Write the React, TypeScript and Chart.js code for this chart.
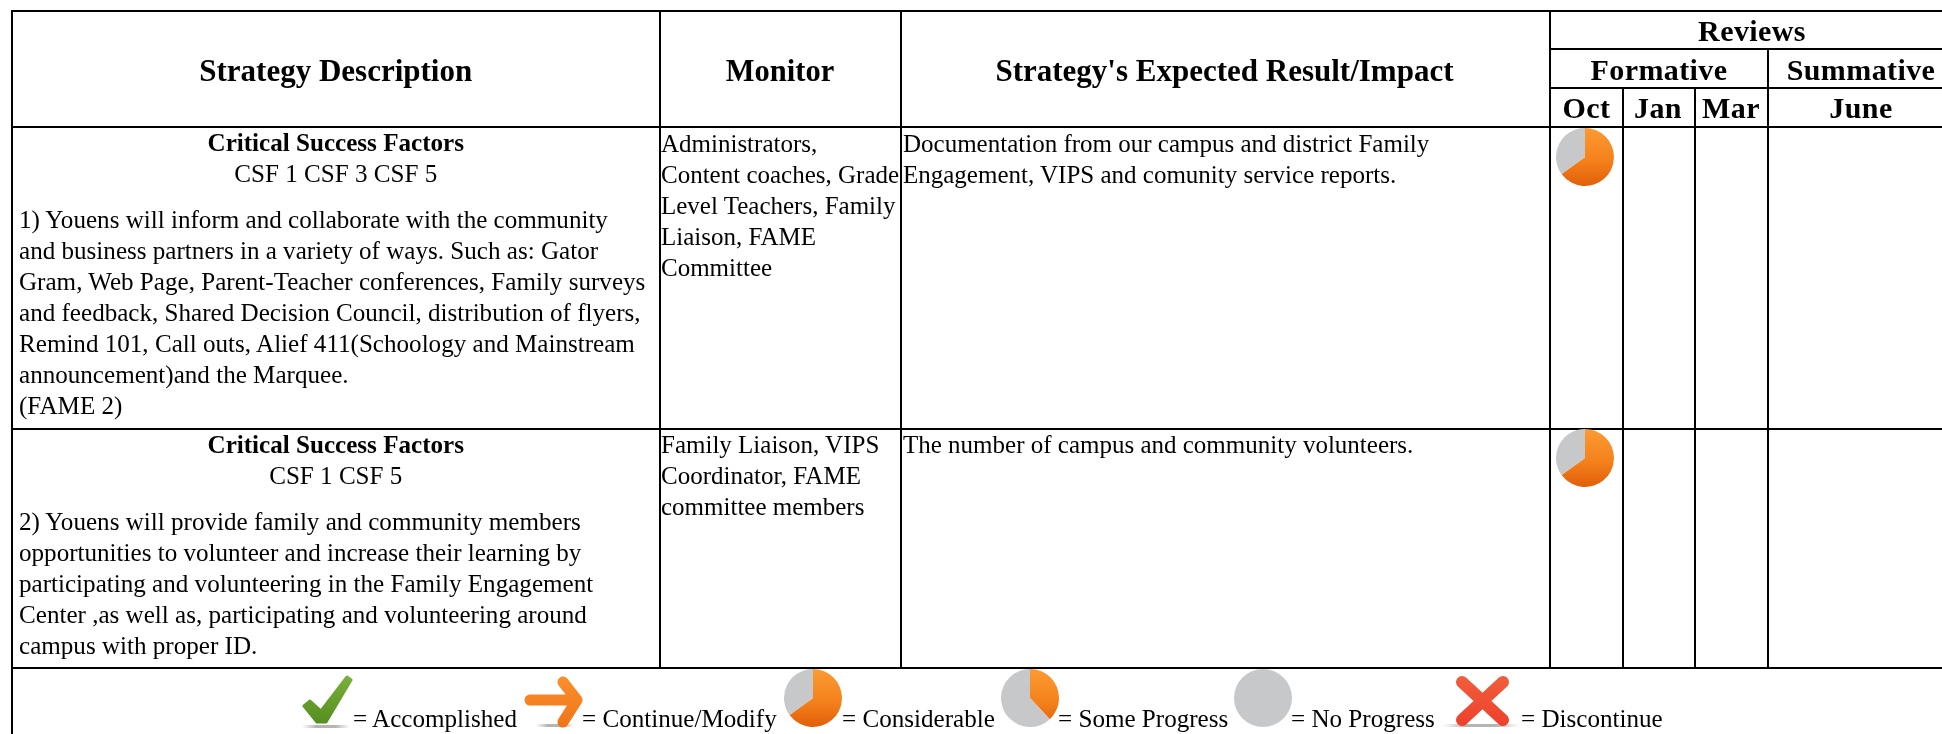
import React, { useEffect, useRef } from "react";
import { Chart, registerables } from "chart.js";

Chart.register(...registerables);

const SERIF = '"Liberation Serif", "Times New Roman", serif';

// ---- Table content ----
const mainHeaders = ["Strategy Description", "Monitor", "Strategy's Expected Result/Impact"];
const reviewsTitle = "Reviews";
const reviewGroups = ["Formative", "Summative"];
const reviewMonths = ["Oct", "Jan", "Mar", "June"];
const csfTitle = "Critical Success Factors";
const row1Csf = "CSF 1 CSF 3 CSF 5";
const row1Description = [
  "1) Youens will inform and collaborate with the community",
  "and business partners in a variety of ways. Such as: Gator",
  "Gram, Web Page, Parent-Teacher conferences, Family surveys",
  "and feedback, Shared Decision Council, distribution of flyers,",
  "Remind 101, Call outs, Alief 411(Schoology and Mainstream",
  "announcement)and the Marquee.",
  "(FAME 2)",
];
const row1Monitor = ["Administrators,", "Content coaches, Grade", "Level Teachers, Family", "Liaison, FAME", "Committee"];
const row1Result = ["Documentation from our campus and district Family", "Engagement, VIPS and comunity service reports."];
const row2Csf = "CSF 1 CSF 5";
const row2Description = [
  "2) Youens will provide family and community members",
  "opportunities to volunteer and increase their learning by",
  "participating and volunteering in the Family Engagement",
  "Center ,as well as, participating and volunteering around",
  "campus with proper ID.",
];
const row2Monitor = ["Family Liaison, VIPS", "Coordinator, FAME", "committee members"];
const row2Result = ["The number of campus and community volunteers."];
const legendLabels = ["= Accomplished", "= Continue/Modify", "= Considerable", "= Some Progress", "= No Progress", "= Discontinue"];

// ---- Progress pie values: [orange share, grey share] ----
const considerableValues = [65, 35];
const someProgressValues = [38, 62];
const noProgressValues = [0, 100];

// ---- Layout ----
const COL = [12, 659.5, 901, 1550, 1623, 1695, 1768];
const ROW = [11, 49, 88, 127, 429, 668];

function Pie({ values, cx, cy }: { values: number[]; cx: number; cy: number }) {
  const ref = useRef<HTMLCanvasElement>(null);
  useEffect(() => {
    if (!ref.current) return;
    const chart = new Chart(ref.current, {
      type: "pie",
      data: {
        labels: ["Progress", "Remaining"],
        datasets: [
          {
            data: values,
            borderWidth: 0,
            backgroundColor: (c: any) => {
              if (c.dataIndex === 1) return "#c7c8ca";
              const g = c.chart.ctx.createLinearGradient(0, 4, 0, 60);
              g.addColorStop(0, "#fb9a33");
              g.addColorStop(0.55, "#f5821c");
              g.addColorStop(1, "#e2600a");
              return g;
            },
          },
        ],
      },
      options: {
        responsive: false,
        animation: false,
        radius: 29,
        layout: { padding: 0 },
        plugins: { legend: { display: false }, tooltip: { enabled: false } },
      } as any,
    });
    return () => chart.destroy();
  }, [values]);
  return (
    <canvas
      ref={ref}
      width={64}
      height={64}
      style={{ position: "absolute", left: cx - 32, top: cy - 32, width: 64, height: 64, filter: "blur(0.7px)" }}
    />
  );
}

function T({ x, y, size = 25, bold = false, center = false, spacing = 0, children }: any) {
  return (
    <div
      style={{
        position: "absolute",
        left: x,
        top: y - 20,
        height: 40,
        lineHeight: "40px",
        fontSize: size,
        fontWeight: bold ? 700 : 400,
        fontFamily: SERIF,
        letterSpacing: spacing,
        color: "#000",
        whiteSpace: "nowrap",
        filter: "blur(0.3px)",
        transform: center ? "translateX(-50%)" : undefined,
      }}
    >
      {children}
    </div>
  );
}

function L({ x1, y1, x2, y2, w = 2 }: any) {
  const horiz = y1 === y2;
  return (
    <div
      style={{
        position: "absolute",
        background: "#000",
        left: horiz ? x1 : x1 - w / 2,
        top: horiz ? y1 - w / 2 : y1,
        width: horiz ? x2 - x1 : w,
        height: horiz ? w : y2 - y1,
      }}
    />
  );
}

function Icon({ x, y, w, h, id, stops, d, sw, filled, shadow }: any) {
  return (
    <svg
      style={{ position: "absolute", left: x, top: y, filter: "blur(0.7px)" }}
      width={w}
      height={h}
      viewBox={`${x} ${y} ${w} ${h}`}
    >
      <defs>
        <linearGradient id={id} gradientUnits="userSpaceOnUse" x1="0" y1={y} x2="0" y2={y + h}>
          <stop offset="0" stopColor={stops[0]} />
          <stop offset="1" stopColor={stops[1]} />
        </linearGradient>
        <linearGradient id={id + "s"} x1="0" y1="0" x2="1" y2="0">
          <stop offset="0" stopColor="#bbb" stopOpacity="0" />
          <stop offset="0.3" stopColor="#b5b5b5" />
          <stop offset="0.7" stopColor="#b5b5b5" />
          <stop offset="1" stopColor="#bbb" stopOpacity="0" />
        </linearGradient>
      </defs>
      <rect x={shadow[0]} y={shadow[1]} width={shadow[2]} height={3} fill={`url(#${id}s)`} />
      <path
        d={d}
        fill={filled ? `url(#${id})` : "none"}
        stroke={`url(#${id})`}
        strokeWidth={sw}
        strokeLinecap="round"
        strokeLinejoin="round"
      />
    </svg>
  );
}

function Lines({ x, y, pitch, lines, size }: { x: number; y: number; pitch: number; lines: string[]; size?: number }) {
  return (
    <>
      {lines.map((s, i) => (
        <T key={i} x={x} y={y + i * pitch} size={size}>
          {s}
        </T>
      ))}
    </>
  );
}

export default function App() {
  const descCx = (COL[0] + COL[1]) / 2;
  const legendY = 718.5;
  const legendSize = 25.1;
  const hSize = 31;
  const rSize = 30;
  const rSpace = 0.4;
  const descSize = 25.1;
  const pitch = 31;
  return (
    <div style={{ position: "absolute", left: 0, top: 0, width: 1942, height: 734, overflow: "hidden", background: "#fff" }}>
      {/* outer and horizontal rules */}
      <L x1={COL[0] - 1} y1={ROW[0]} x2={1942} y2={ROW[0]} />
      <L x1={COL[3]} y1={ROW[1]} x2={1942} y2={ROW[1]} />
      <L x1={COL[3]} y1={ROW[2]} x2={1942} y2={ROW[2]} />
      <L x1={COL[0] - 1} y1={ROW[3]} x2={1942} y2={ROW[3]} />
      <L x1={COL[0] - 1} y1={ROW[4]} x2={1942} y2={ROW[4]} />
      <L x1={COL[0] - 1} y1={ROW[5]} x2={1942} y2={ROW[5]} />
      {/* vertical rules */}
      <L x1={COL[0]} y1={ROW[0]} x2={COL[0]} y2={734} />
      <L x1={COL[1]} y1={ROW[0]} x2={COL[1]} y2={ROW[5]} />
      <L x1={COL[2]} y1={ROW[0]} x2={COL[2]} y2={ROW[5]} />
      <L x1={COL[3]} y1={ROW[0]} x2={COL[3]} y2={ROW[5]} />
      <L x1={COL[4]} y1={ROW[2]} x2={COL[4]} y2={ROW[5]} />
      <L x1={COL[5]} y1={ROW[2]} x2={COL[5]} y2={ROW[5]} />
      <L x1={COL[6]} y1={ROW[1]} x2={COL[6]} y2={ROW[5]} />

      {/* headers */}
      <T x={descCx} y={70.5} size={hSize} bold center>{mainHeaders[0]}</T>
      <T x={780} y={70.5} size={hSize - 0.5} bold center>{mainHeaders[1]}</T>
      <T x={1224.5} y={70.5} size={hSize} bold center>{mainHeaders[2]}</T>
      <T x={1752} y={31} size={rSize} bold center spacing={rSpace}>{reviewsTitle}</T>
      <T x={1659} y={70} size={rSize} bold center spacing={rSpace}>{reviewGroups[0]}</T>
      <T x={1861} y={70} size={rSize} bold center spacing={rSpace}>{reviewGroups[1]}</T>
      <T x={1586.5} y={108} size={rSize} bold center spacing={rSpace}>{reviewMonths[0]}</T>
      <T x={1658} y={108} size={rSize} bold center spacing={rSpace}>{reviewMonths[1]}</T>
      <T x={1731} y={108} size={rSize} bold center spacing={rSpace}>{reviewMonths[2]}</T>
      <T x={1861} y={108} size={rSize} bold center spacing={rSpace}>{reviewMonths[3]}</T>

      {/* row 1 */}
      <T x={descCx} y={143} size={descSize} bold center>{csfTitle}</T>
      <T x={descCx} y={174} size={descSize} center>{row1Csf}</T>
      <Lines x={19} y={220} pitch={pitch} lines={row1Description} size={descSize} />
      <Lines x={661} y={143.5} pitch={pitch} lines={row1Monitor} />
      <Lines x={903} y={143.5} pitch={pitch} lines={row1Result} />
      <Pie values={considerableValues} cx={1585} cy={157} />

      {/* row 2 */}
      <T x={descCx} y={444.5} size={descSize} bold center>{csfTitle}</T>
      <T x={descCx} y={475.5} size={descSize} center>{row2Csf}</T>
      <Lines x={19} y={521.5} pitch={pitch} lines={row2Description} size={descSize} />
      <Lines x={661} y={445} pitch={pitch} lines={row2Monitor} />
      <Lines x={903} y={445} pitch={pitch} lines={row2Result} />
      <Pie values={considerableValues} cx={1585} cy={458} />

      {/* legend */}
      <Icon x={298} y={672} w={58} h={58} id="chk" stops={["#7db23c", "#4f8a1c"]} filled sw={3} shadow={[302, 725, 48]}
        d="M304 706 L310 701 L321 711 L347 677 L351 680 L326 722 L317 722 Z" />
      <Icon x={522} y={676} w={64} h={54} id="arr" stops={["#fb8f2c", "#ef7318"]} sw={11} shadow={[536, 724, 38]}
        d="M530 700 L577 700 M563 682 L577 700 L563 722" />
      <Pie values={considerableValues} cx={813} cy={698} />
      <Pie values={someProgressValues} cx={1030} cy={698} />
      <Pie values={noProgressValues} cx={1263} cy={698} />
      <Icon x={1442} y={672} w={80} h={58} id="xxx" stops={["#f1603e", "#ec3f2a"]} sw={12} shadow={[1443, 724, 76]}
        d="M1462 682 L1503 720 M1503 682 L1462 720" />
      <T x={353} y={legendY} size={legendSize}>{legendLabels[0]}</T>
      <T x={582} y={legendY} size={legendSize}>{legendLabels[1]}</T>
      <T x={842} y={legendY} size={legendSize}>{legendLabels[2]}</T>
      <T x={1058} y={legendY} size={legendSize}>{legendLabels[3]}</T>
      <T x={1291} y={legendY} size={legendSize}>{legendLabels[4]}</T>
      <T x={1521} y={legendY} size={legendSize}>{legendLabels[5]}</T>
    </div>
  );
}
